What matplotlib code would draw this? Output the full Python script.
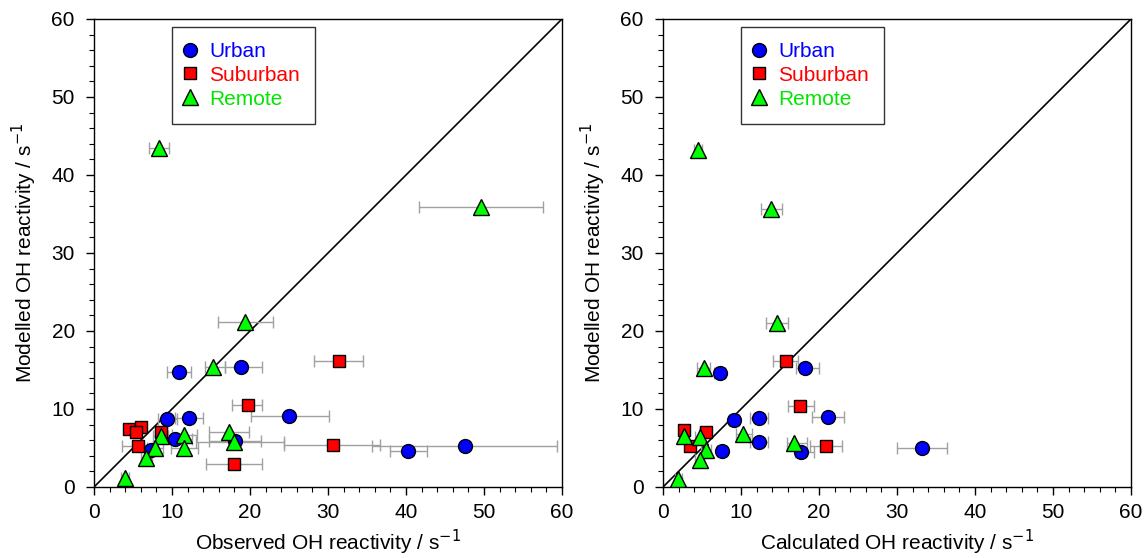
import matplotlib
matplotlib.use("Agg")
import matplotlib.pyplot as plt
from matplotlib.lines import Line2D
from matplotlib.ticker import MultipleLocator
import numpy as np

plt.rcParams['font.family'] = ['Liberation Sans', 'DejaVu Sans']

# ---------- Left panel: observed vs modelled ----------
urban_obs = [10.9, 18.8, 9.4, 12.2, 25.0, 10.4, 18.1, 7.3, 40.3, 47.5]
urban_obs_lo = [9.4, 16.8, 8.2, 10.4, 20.1, 8.2, 14.7, 6.5, 37.9, 35.7]
urban_obs_hi = [12.4, 21.6, 10.6, 14.0, 30.1, 12.6, 21.4, 8.1, 42.7, 59.3]
urban_mod_l = [14.8, 15.4, 8.7, 8.9, 9.1, 6.1, 5.9, 4.7, 4.6, 5.2]

sub_obs = [31.4, 19.7, 30.6, 17.9, 4.5, 6.0, 5.35, 8.55, 5.6]
sub_obs_lo = [28.2, 17.7, 24.3, 14.4, 3.9, 5.3, 4.7, 7.8, 3.6]
sub_obs_hi = [34.5, 21.6, 36.7, 21.6, 5.1, 6.7, 6.0, 9.3, 7.6]
sub_mod_l = [16.2, 10.5, 5.4, 2.9, 7.4, 7.7, 7.1, 7.1, 5.25]

rem_obs = [8.3, 49.6, 19.4, 15.3, 17.3, 17.9, 11.5, 11.6, 8.55, 7.8, 6.7, 4.0]
rem_obs_lo = [7.0, 41.7, 15.9, 14.2, 14.7, 13.1, 10.0, 9.9, 7.5, 6.8, 6.0, 3.5]
rem_obs_hi = [9.6, 57.5, 22.9, 16.8, 19.9, 24.3, 13.2, 13.3, 9.5, 8.8, 7.4, 4.5]
rem_mod_l = [43.5, 35.9, 21.2, 15.4, 7.0, 5.8, 6.7, 5.0, 6.5, 5.0, 3.7, 1.2]

# ---------- Right panel: calculated vs modelled ----------
urban_calc = [7.3, 18.2, 9.1, 12.3, 21.2, 12.3, 17.65, 7.5, 33.2]
urban_calc_lo = [6.6, 17.1, 8.5, 11.2, 19.1, 11.2, 16.9, 6.9, 30.0]
urban_calc_hi = [8.0, 20.0, 9.7, 13.4, 23.2, 13.4, 19.4, 8.1, 36.4]
urban_mod_r = [14.65, 15.2, 8.6, 8.8, 9.0, 5.8, 4.5, 4.6, 5.0]

sub_calc = [15.8, 17.6, 20.9, 2.7, 5.5, 3.4]
sub_calc_lo = [14.1, 16.0, 18.8, 2.2, 4.8, 2.9]
sub_calc_hi = [17.3, 19.4, 23.0, 3.2, 6.2, 3.9]
sub_mod_r = [16.1, 10.4, 5.3, 7.3, 7.0, 5.2]

rem_calc = [4.5, 13.85, 14.6, 5.2, 10.3, 16.8, 2.7, 4.7, 5.5, 4.7, 1.96]
rem_calc_lo = [4.0, 12.6, 13.2, 4.4, 9.4, 15.9, 2.1, 4.1, 4.9, 4.1, 1.5]
rem_calc_hi = [5.0, 15.3, 16.0, 6.0, 11.4, 18.4, 3.3, 5.3, 6.1, 5.3, 2.4]
rem_mod_r = [43.2, 35.6, 21.0, 15.2, 6.8, 5.6, 6.6, 6.4, 4.7, 3.5, 1.03]

categories = ["Urban", "Suburban", "Remote"]
ticks = [0, 10, 20, 30, 40, 50, 60]

styles = {
    "Urban": dict(marker='o', mfc='#0000ff', ms=10, text='#0000ff'),
    "Suburban": dict(marker='s', mfc='#ff0000', ms=8.6, text='#ff0000'),
    "Remote": dict(marker='^', mfc='#00ff00', ms=12, text='#00e600'),
}

fig = plt.figure(figsize=(11.46, 5.58), dpi=100)
axL = fig.add_axes([94/1146, 71/558, 468/1146, 468/558])
axR = fig.add_axes([663/1146, 71/558, 468/1146, 468/558])

panels = [
    (axL, "Observed OH reactivity / s$^{-1}$",
     [(urban_obs, urban_obs_lo, urban_obs_hi, urban_mod_l),
      (sub_obs, sub_obs_lo, sub_obs_hi, sub_mod_l),
      (rem_obs, rem_obs_lo, rem_obs_hi, rem_mod_l)]),
    (axR, "Calculated OH reactivity / s$^{-1}$",
     [(urban_calc, urban_calc_lo, urban_calc_hi, urban_mod_r),
      (sub_calc, sub_calc_lo, sub_calc_hi, sub_mod_r),
      (rem_calc, rem_calc_lo, rem_calc_hi, rem_mod_r)]),
]

for ax, xlabel, series in panels:
    ax.plot([0, 60], [0, 60], color='black', lw=1.2, zorder=2)
    for cat, (xs, lo, hi, ys) in zip(categories, series):
        xs = np.array(xs); lo = np.array(lo); hi = np.array(hi)
        ax.errorbar(xs, ys, xerr=[xs - lo, hi - xs], fmt='none',
                    ecolor='#a0a0a0', elinewidth=1.0, capsize=4, capthick=1.0, zorder=3)
    handles = []
    for cat, (xs, lo, hi, ys) in zip(categories, series):
        st = styles[cat]
        ax.plot(xs, ys, linestyle='none', marker=st['marker'], ms=st['ms'],
                mfc=st['mfc'], mec='black', mew=1.0, zorder=4)
        handles.append(Line2D([], [], linestyle='none', marker=st['marker'],
                              ms=st['ms'], mfc=st['mfc'], mec='black', mew=1.0))
    leg = ax.legend(handles, categories, loc='upper left',
                    bbox_to_anchor=(0.166, 0.983), frameon=True, fancybox=False,
                    fontsize=15, handlelength=0.3, handletextpad=0.78,
                    labelspacing=0.23, borderpad=0.72, borderaxespad=0,
                    labelcolor=[styles[c]['text'] for c in categories])
    leg.get_frame().set_edgecolor('black')
    leg.get_frame().set_linewidth(1.0)
    ax.set_xlim(0, 60)
    ax.set_ylim(0, 60)
    ax.set_xticks(ticks)
    ax.set_yticks(ticks)
    ax.xaxis.set_minor_locator(MultipleLocator(2))
    ax.yaxis.set_minor_locator(MultipleLocator(2))
    ax.tick_params(which='major', direction='out', length=5.8, width=1.0, labelsize=15)
    ax.tick_params(which='minor', direction='out', length=3.6, width=0.8)
    ax.tick_params(axis='x', which='major', pad=6)
    ax.tick_params(axis='y', which='major', pad=8)
    for sp in ax.spines.values():
        sp.set_linewidth(1.0)
    ax.set_xlabel(xlabel, fontsize=15, labelpad=4)
    ax.set_ylabel("Modelled OH reactivity / s$^{-1}$", fontsize=15, labelpad=9)

fig.savefig("out.png", dpi=100)
